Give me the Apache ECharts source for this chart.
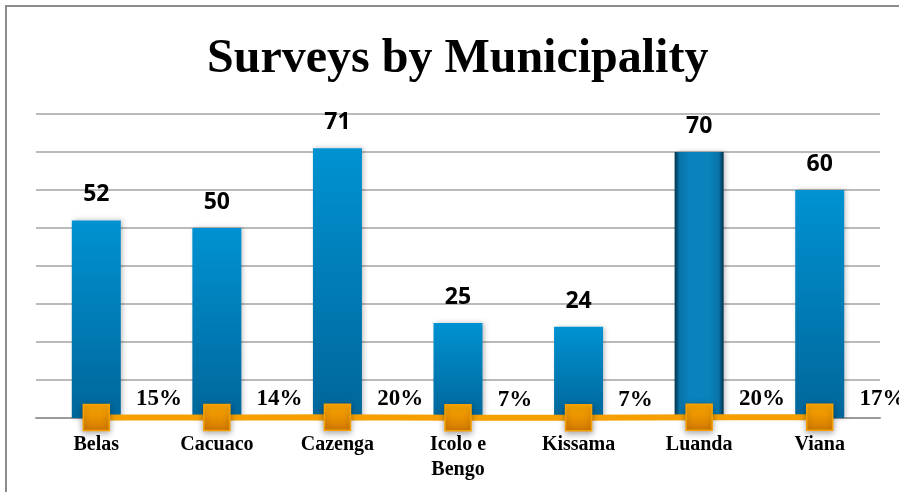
<!DOCTYPE html>
<html>
<head>
<meta charset="utf-8">
<style>
  html, body { margin: 0; padding: 0; background: #ffffff; }
  #chart { width: 899px; height: 492px; }
</style>
<script src="https://cdn.jsdelivr.net/npm/echarts@6/dist/echarts.min.js"></script>
</head>
<body>
<div id="chart"></div>
<script>
// Survey counts per municipality and each one's share of the total
const municipalities = ['Belas', 'Cacuaco', 'Cazenga', 'Icolo e\nBengo', 'Kissama', 'Luanda', 'Viana'];
const surveyCounts = [52, 50, 71, 25, 24, 70, 60];
const sharePercent = [15, 14, 20, 7, 7, 20, 17];

const barGradient = new echarts.graphic.LinearGradient(0, 0, 0, 1, [
  { offset: 0, color: '#0092d2' },
  { offset: 1, color: '#00669a' }
]);
// Luanda is drawn with a bevelled look: darker edges, steady blue middle
const bevelGradient = new echarts.graphic.LinearGradient(0, 0, 1, 0, [
  { offset: 0, color: '#03324c' },
  { offset: 0.1, color: '#0873a8' },
  { offset: 0.3, color: '#0a82bc' },
  { offset: 0.7, color: '#0a82bc' },
  { offset: 0.9, color: '#0873a8' },
  { offset: 1, color: '#02304a' }
]);
const markerGradient = new echarts.graphic.LinearGradient(0, 0, 0, 1, [
  { offset: 0, color: '#ffab00' },
  { offset: 1, color: '#d27800' }
]);

const barData = surveyCounts.map((v, i) => ({
  value: v,
  itemStyle: { color: municipalities[i] === 'Luanda' ? bevelGradient : barGradient }
}));

const chart = echarts.init(document.getElementById('chart'), null, { renderer: 'canvas' });
chart.setOption({
  animation: false,
  backgroundColor: '#ffffff',
  title: {
    text: 'Surveys by Municipality',
    left: 202,
    top: 31,
    textStyle: {
      fontFamily: '"Liberation Serif", "Times New Roman", serif',
      fontWeight: 'bold',
      fontSize: 48,
      color: '#000000'
    }
  },
  graphic: [{
    type: 'polyline',
    shape: { points: [[6, 492], [6, 6], [899, 6]] },
    style: { stroke: '#8c8c8c', lineWidth: 2, fill: null },
    silent: true
  }],
  grid: { left: 36, right: 19, top: 114, bottom: 74 },
  xAxis: {
    type: 'category',
    data: municipalities,
    axisTick: { show: false },
    axisLine: { lineStyle: { color: '#9a9a9a', width: 2 } },
    axisLabel: {
      color: '#000000',
      fontFamily: '"Liberation Serif", "Times New Roman", serif',
      fontWeight: 'bold',
      fontSize: 20,
      lineHeight: 25,
      margin: 14,
      interval: 0
    }
  },
  yAxis: {
    type: 'value',
    min: 0,
    max: 80,
    interval: 10,
    axisLabel: { show: false },
    axisLine: { show: false },
    axisTick: { show: false },
    splitLine: { lineStyle: { color: '#a3a3a3', width: 1.5 } }
  },
  series: [
    {
      name: 'Surveys',
      type: 'bar',
      data: barData,
      barWidth: 49,
      itemStyle: {
        shadowBlur: 5,
        shadowColor: 'rgba(0,0,0,0.25)',
        shadowOffsetX: 2
      },
      label: {
        show: true,
        position: 'top',
        distance: 14,
        formatter: '{c}',
        color: '#000000',
        fontFamily: '"Open Sans", sans-serif',
        fontWeight: 'bold',
        fontSize: 23
      },
      z: 2
    },
    {
      name: 'Share',
      type: 'line',
      data: sharePercent.map(p => p / 100),
      symbol: 'rect',
      symbolSize: 26,
      lineStyle: { color: '#f5a000', width: 6 },
      itemStyle: {
        color: markerGradient,
        borderColor: '#f5a000',
        borderWidth: 1.5,
        shadowBlur: 6,
        shadowColor: 'rgba(0,0,0,0.35)',
        shadowOffsetY: 2
      },
      label: {
        show: true,
        position: 'right',
        distance: 26,
        offset: [0, -18],
        formatter: p => Math.round(p.value * 100) + '%',
        color: '#000000',
        fontFamily: '"Liberation Serif", "Times New Roman", serif',
        fontWeight: 'bold',
        fontSize: 23
      },
      z: 5
    }
  ]
});
</script>
</body>
</html>
